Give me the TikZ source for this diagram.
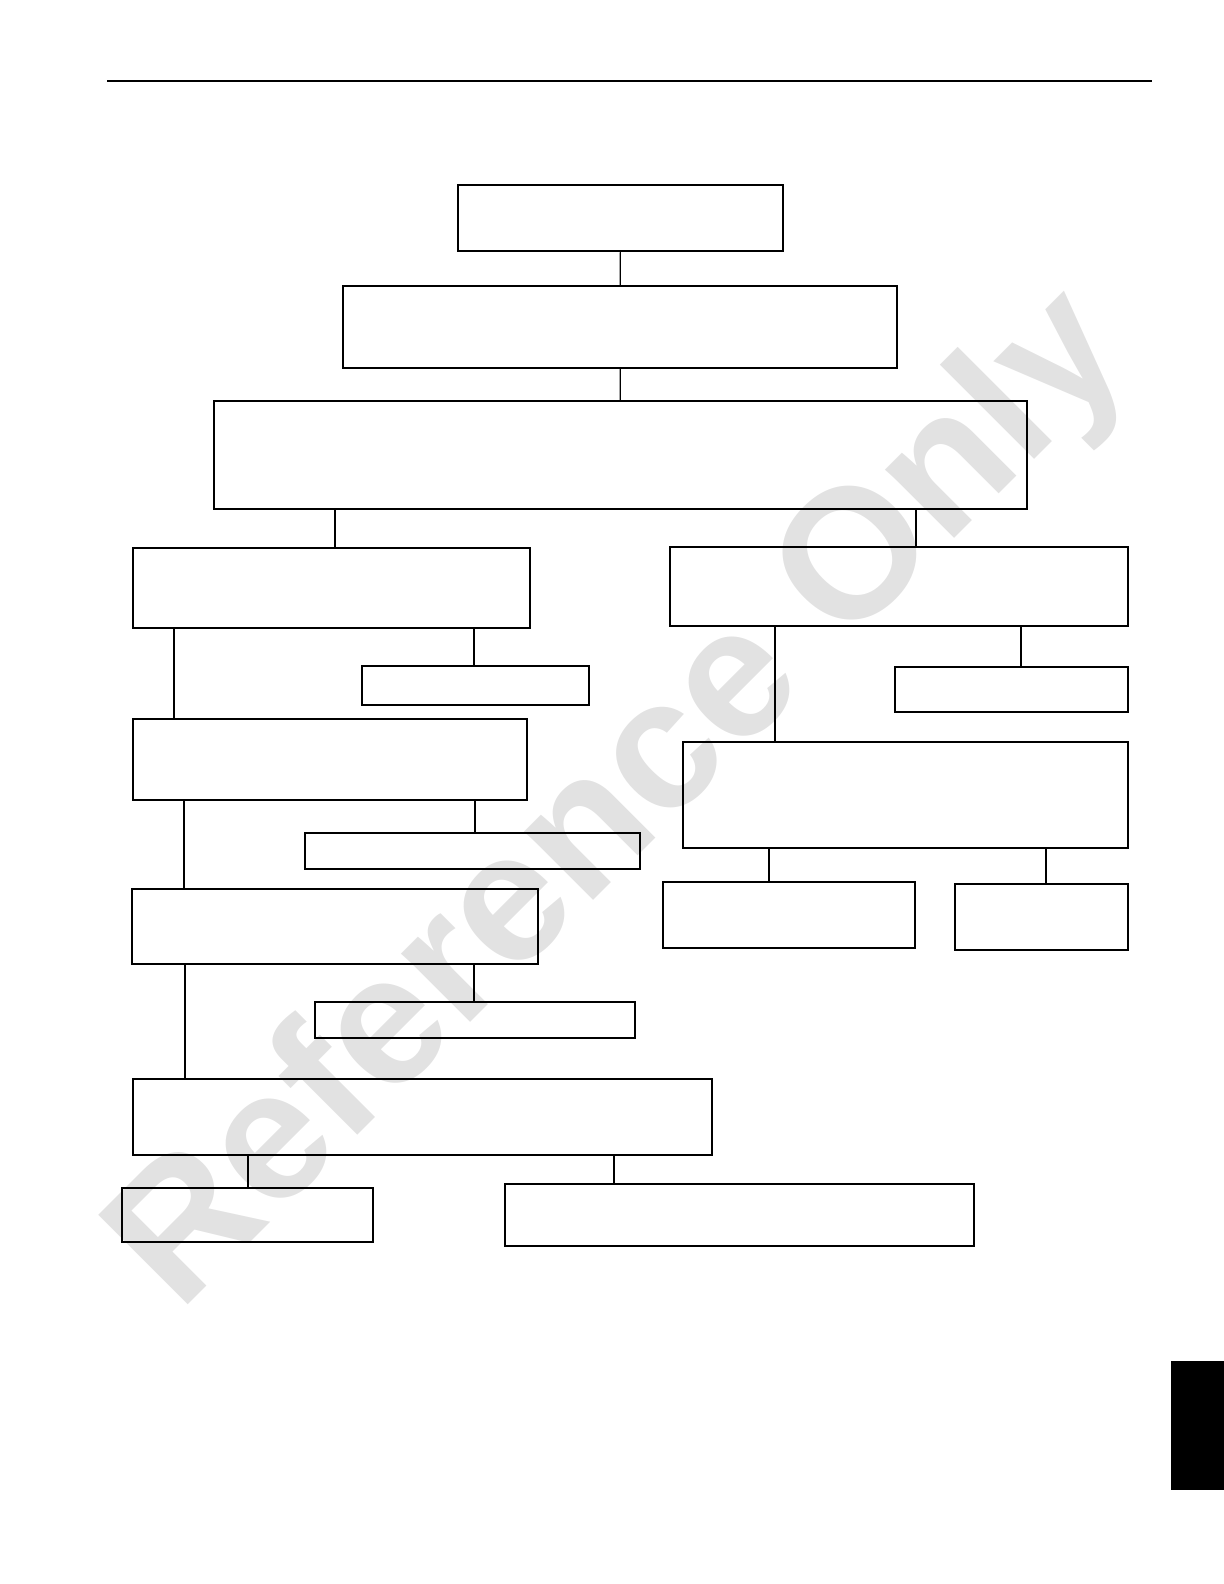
\documentclass[tikz,border=0pt]{standalone}
\usepackage{fontspec}
\newfontfamily\markfont{Liberation Sans}
\definecolor{markgray}{RGB}{226,226,226}
\tikzset{
  blk/.style={draw, line width=0.8pt, rectangle, inner sep=0pt},
  link/.style={line width=0.6pt},
  heavylink/.style={line width=1.2pt}
}

\begin{document}
\begin{tikzpicture}[x={(0.5pt,0)}, y={(0,-0.5pt)}]
    \useasboundingbox (0,0) rectangle (1224,1584);
    % watermark behind the chart
    \node[rotate=45, text=markgray, inner sep=0pt,
          font=\markfont\bfseries\fontsize{92}{92}\selectfont] (mark) at (623,803) {Reference Only};
    % page rule and side tab
    \draw[line width=1pt] (107,81) -- (1152,81);
    \fill (1171,1361) rectangle (1224,1490);
    % boxes: name / left / top / right / bottom
    \foreach \n/\a/\b/\c/\d in {
        start/458/185/783/251, check/343/286/897/368, split/214/401/1027/509,
        la/133/548/530/628, lsa/362/666/589/705,
        lb/133/719/527/800, lsb/305/833/640/869,
        lc/132/889/538/964, lsc/315/1002/635/1038,
        ld/133/1079/712/1155, lea/122/1188/373/1242, leb/505/1184/974/1246,
        ra/670/547/1128/626, rsa/895/667/1128/712,
        rb/683/742/1128/848, rca/663/882/915/948, rcb/955/884/1128/950}{
        \node[blk, minimum width={(\c-\a)*0.5pt}, minimum height={(\d-\b)*0.5pt}]
            (\n) at ({(\a+\c)/2},{(\b+\d)/2}) {};
    }
    % connectors
    \draw[link] (start) -- (check);
    \draw[link] (check) -- (split);
    \draw[link] (split.south -| 335,0) -- (la.north -| 335,0);
    \draw[heavylink] (split.south -| 916,0) -- (ra.north -| 916,0);
    \draw[link] (la.south -| 174,0) -- (lb.north -| 174,0);
    \draw[link] (la.south -| 474,0) -- (lsa.north -| 474,0);
    \draw[heavylink] (lb.south -| 184,0) -- (lc.north -| 184,0);
    \draw[heavylink] (lb.south -| 475,0) -- (lsb.north -| 475,0);
    \draw[link] (lc.south -| 185,0) -- (ld.north -| 185,0);
    \draw[link] (lc.south -| 474,0) -- (lsc.north -| 474,0);
    \draw[link] (ld.south -| 248,0) -- (lea.north -| 248,0);
    \draw[link] (ld.south -| 614,0) -- (leb.north -| 614,0);
    \draw[heavylink] (ra.south -| 775,0) -- (rb.north -| 775,0);
    \draw[link] (ra.south -| 1021,0) -- (rsa.north -| 1021,0);
    \draw[heavylink] (rb.south -| 769,0) -- (rca.north -| 769,0);
    \draw[link] (rb.south -| 1046,0) -- (rcb.north -| 1046,0);
\end{tikzpicture}
\end{document}
